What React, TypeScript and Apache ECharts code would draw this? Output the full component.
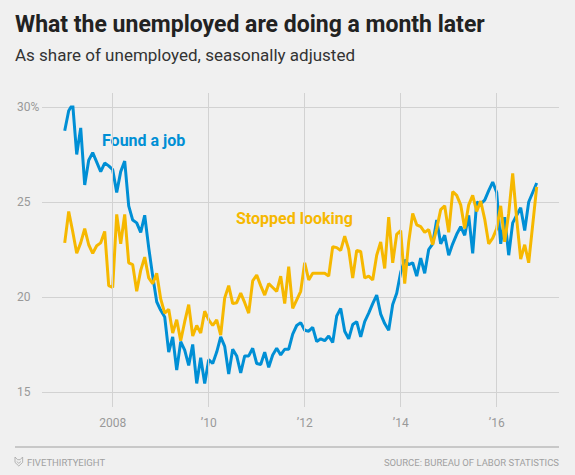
import React, { useEffect, useRef } from "react";
import * as echarts from "echarts";

// Monthly observations, Jan 2007 – Nov 2016
const START_YEAR = 2007;
const foundJob: number[] = [
  28.75, 29.8, 30.15, 27.5, 28.9, 25.9, 27.2, 27.6, 27.1, 26.6, 27.05, 26.9,
  26.7, 25.5, 26.6, 27.15, 24.8, 24.05, 23.9, 23.4, 24.3, 22.6, 21.1, 19.75,
  19.3, 18.95, 17.1, 17.9, 16.15, 17.65, 17.2, 16.4, 17.5, 15.45, 16.8, 15.45,
  16.7, 16.5, 17.1, 17.9, 17.4, 15.95, 17.25, 16.9, 16.0, 16.9, 16.9, 17.3,
  16.5, 16.45, 17.1, 16.3, 16.95, 17.3, 16.95, 17.25, 17.25, 18.05, 18.5, 18.65,
  18.25, 18.2, 18.4, 17.65, 17.8, 17.7, 17.95, 17.6, 19.0, 19.4, 18.2, 17.8,
  18.55, 18.7, 17.9, 18.7, 19.15, 19.65, 20.1, 19.1, 18.6, 18.25, 19.6, 20.2,
  21.3, 21.95, 21.7, 21.8, 21.1, 22.05, 21.25, 22.5, 22.8, 24.05, 22.8, 23.25,
  22.2, 22.8, 23.3, 23.7, 23.25, 24.3, 22.3, 25.0, 24.9, 25.1, 25.6, 26.05,
  25.5, 22.8, 24.2, 22.2, 23.9, 24.3, 24.7, 23.5, 25.0, 25.5, 26.0,
];
const stoppedLooking: number[] = [
  22.85, 24.5, 23.45, 22.3, 22.85, 23.6, 22.75, 22.3, 22.7, 22.85, 23.45, 20.6,
  20.5, 24.35, 22.8, 24.35, 21.8, 21.7, 20.3, 21.4, 22.1, 21.0, 20.7, 21.25,
  19.9, 19.15, 19.35, 18.1, 18.8, 17.7, 18.7, 19.6, 17.95, 18.5, 18.1, 19.25,
  18.8, 18.5, 18.8, 18.0, 19.95, 20.6, 19.65, 19.7, 20.2, 19.7, 19.15, 20.85,
  21.15, 20.6, 20.1, 20.7, 20.5, 20.3, 21.1, 19.65, 21.6, 19.4, 19.85, 20.3,
  21.8, 20.9, 21.25, 21.25, 21.25, 21.25, 21.1, 22.65, 22.6, 22.45, 23.2, 22.5,
  21.0, 22.45, 22.4, 21.0, 21.1, 20.9, 22.2, 22.9, 21.5, 24.2, 21.8, 23.3,
  23.5, 20.7, 22.9, 24.4, 23.8, 23.7, 23.4, 23.55, 22.75, 23.6, 24.6, 24.8,
  23.4, 25.55, 25.35, 24.85, 23.6, 24.85, 25.35, 24.5, 25.05, 24.1, 22.8, 23.1,
  23.6, 24.8, 22.9, 24.4, 26.5, 24.1, 22.0, 22.75, 21.8, 23.8, 25.8,
];
const xTickValues = [2008, 2010, 2012, 2014, 2016];
const xTickLabels = ["2008", "\u201910", "\u201912", "\u201914", "\u201916"];
const yTickValues = [15, 20, 25, 30];

const BLUE = "#008fd5";
const YELLOW = "#f6b800";
const GRID = "#d2d2d2";
const X_MIN = 2006.527;
const X_MAX = 2017.298;

echarts.graphic.registerShape(
  "fteLogo",
  echarts.graphic.extendPath(
    "M0,0 L3,3 L6,3 L9,0 L9,6 L4.5,10 L0,6 Z M2,5 L4.5,7 L7,5",
    {}
  )
);

export default function App() {
  const ref = useRef<HTMLDivElement>(null);
  useEffect(() => {
    if (!ref.current) return;
    const chart = echarts.init(ref.current, null, { renderer: "svg" });
    const toPairs = (arr: number[]) =>
      arr.map((v, i) => [START_YEAR + i / 12, v]);
    const tickFont = { fontFamily: "Roboto", fontSize: 12, color: "#999" };
    chart.setOption({
      animation: false,
      backgroundColor: "#f0f0f0",
      grid: [
        { left: 42, right: 16, top: 107, bottom: 83 },
        { left: 42, right: 16, top: 93, bottom: 68 },
      ],
      xAxis: [
        {
          type: "value",
          gridIndex: 0,
          min: X_MIN,
          max: X_MAX,
          show: false,
        },
        {
          type: "value",
          gridIndex: 1,
          min: X_MIN,
          max: X_MAX,
          axisLine: { show: false },
          axisTick: { show: false },
          splitLine: { show: false },
          axisLabel: {
            ...tickFont,
            margin: 10,
            customValues: xTickValues,
            formatter: (v: number) => xTickLabels[xTickValues.indexOf(Math.round(v))] ?? "",
          },
        },
      ],
      yAxis: [
        {
          type: "value",
          gridIndex: 0,
          min: 15,
          max: 30,
          interval: 5,
          axisLine: { show: false },
          axisTick: { show: false },
          splitLine: { show: true, lineStyle: { color: GRID, width: 1 } },
          axisLabel: {
            ...tickFont,
            align: "left",
            margin: 25,
            formatter: (v: number) =>
              yTickValues.includes(v) ? (v === 30 ? "30%" : String(v)) : "",
          },
        },
        {
          type: "value",
          gridIndex: 1,
          min: 0,
          max: 1,
          show: false,
        },
      ],
      series: [
        {
          type: "line",
          xAxisIndex: 1,
          yAxisIndex: 1,
          data: [],
          silent: true,
          markLine: {
            silent: true,
            symbol: "none",
            label: { show: false },
            lineStyle: { color: GRID, width: 1, type: "solid" },
            data: xTickValues.map((v) => ({ xAxis: v })),
          },
        },
        {
          name: "Found a job",
          type: "line",
          xAxisIndex: 0,
          yAxisIndex: 0,
          data: toPairs(foundJob),
          showSymbol: false,
          lineStyle: { color: BLUE, width: 3 },
          itemStyle: { color: BLUE },
          z: 3,
        },
        {
          name: "Stopped looking",
          type: "line",
          xAxisIndex: 0,
          yAxisIndex: 0,
          data: toPairs(stoppedLooking),
          showSymbol: false,
          lineStyle: { color: YELLOW, width: 3 },
          itemStyle: { color: YELLOW },
          z: 4,
        },
      ],
      graphic: [
        {
          type: "text",
          left: 15,
          top: 13,
          style: {
            text: "What the unemployed are doing a month later",
            font: "bold 23px Roboto",
            fill: "#222",
          },
        },
        {
          type: "text",
          left: 15,
          top: 46,
          style: {
            text: "As share of unemployed, seasonally adjusted",
            font: "17px Roboto",
            fill: "#333",
          },
        },
        {
          type: "text",
          left: 102,
          top: 132,
          style: { text: "Found a job", font: "bold 16px Roboto", fill: BLUE },
        },
        {
          type: "text",
          left: 236,
          top: 210,
          style: { text: "Stopped looking", font: "bold 16px Roboto", fill: YELLOW },
        },
        {
          type: "rect",
          shape: { x: 15, y: 446, width: 544, height: 2 },
          style: { fill: "#c8c8c8" },
        },
        {
          type: "fteLogo",
          x: 15,
          y: 457,
          scaleX: 0.85,
          scaleY: 0.9,
          style: { fill: "none", stroke: "#aaa", lineWidth: 1 },
        },
        {
          type: "text",
          left: 27,
          top: 457,
          style: { text: "FIVETHIRTYEIGHT", font: "9.5px Roboto", fill: "#a0a0a0" },
        },
        {
          type: "text",
          right: 16,
          top: 457,
          style: {
            text: "SOURCE: BUREAU OF LABOR STATISTICS",
            font: "9.5px Roboto",
            fill: "#a0a0a0",
          },
        },
      ],
    });
    return () => chart.dispose();
  }, []);
  return (
    <div
      ref={ref}
      style={{
        position: "absolute",
        left: 0,
        top: 0,
        width: 575,
        height: 475,
        background: "#f0f0f0",
      }}
    />
  );
}
